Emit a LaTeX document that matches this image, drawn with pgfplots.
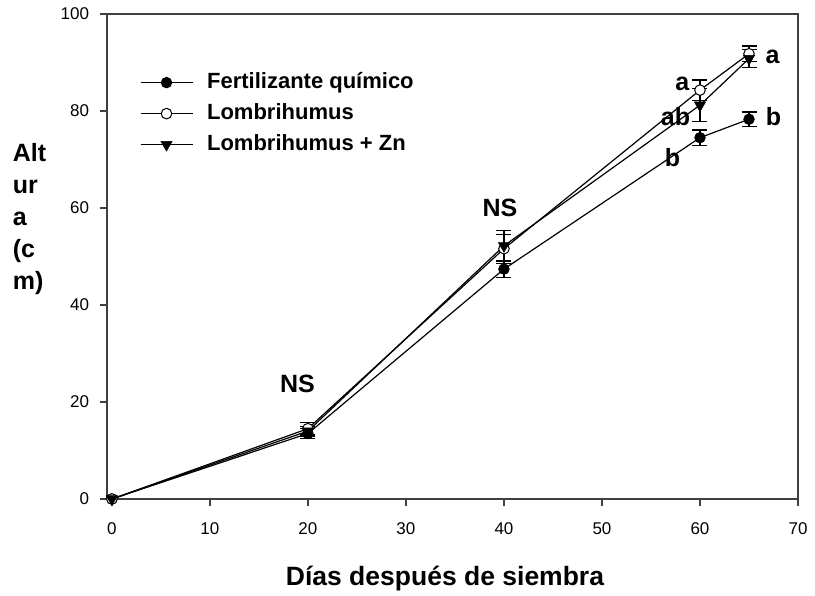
\documentclass[border=0pt]{standalone}
\usepackage{fontspec}
\setmainfont{Liberation Sans}
\usepackage{pgfplots}
\usepackage{pgfplotstable}
\pgfplotsset{compat=1.18}

\pgfplotstableread{
x y e
0 0 0
20 13.5 1.0
40 47.4 1.8
60 74.5 1.6
65 78.3 1.5
}\fert

\pgfplotstableread{
x y e
0 0 0
20 14.5 1.2
40 51.6 3.0
60 84.3 2.1
65 91.8 1.6
}\lomb

\pgfplotstableread{
x y e
0 0 0
20 14.0 1.0
40 52.2 3.2
60 81.2 3.4
65 90.8 1.8
}\lombzn

\begin{document}
\begin{tikzpicture}[x=1pt,y=1pt]
\begin{axis}[
  at={(107pt,97pt)}, anchor=south west,
  scale only axis, width=691pt, height=485pt,
  xmin=-0.5, xmax=70, ymin=0, ymax=100,
  xtick={0,10,...,70}, ytick={0,20,...,100},
  tick align=outside, tick pos=left,
  major tick length=7.5pt,
  axis line style={line width=1.6pt, draw=black!75},
  tick style={line width=1.2pt, draw=black!75},
  ticklabel style={font=\fontsize{17}{20}\selectfont},
  xticklabel style={yshift=-13pt},
  yticklabel style={xshift=-7pt},
  /pgf/number format/assume math mode=true,
  clip=false,
  legend style={draw=none, fill=none, at={(rel axis cs:0.043,0.895)}, anchor=north west,
    font=\bfseries\fontsize{22}{26}\selectfont, row sep=0pt,
    nodes={text height=16pt, text depth=5pt, inner sep=5pt},
    /tikz/every odd column/.append style={column sep=9pt}},
  legend cell align=left,
  legend image code/.code={\draw[mark repeat=2,mark phase=2,#1] plot coordinates {(0pt,0pt)(26pt,0pt)(52pt,0pt)};},
]
% error bars (skip the zero point)
\addplot[forget plot, draw=none, mark=none, skip coords between index={0}{1},
  error bars/.cd, y dir=both, y explicit,
  error bar style={draw=black, line width=1.2pt},
  error mark options={draw=black, rotate=90, mark size=7.5pt, line width=1.2pt}]
  table[x=x, y=y, y error=e] {\fert};
\addplot[forget plot, draw=none, mark=none, skip coords between index={0}{1},
  error bars/.cd, y dir=both, y explicit,
  error bar style={draw=black, line width=1.2pt},
  error mark options={draw=black, rotate=90, mark size=7.5pt, line width=1.2pt}]
  table[x=x, y=y, y error=e] {\lomb};
\addplot[forget plot, draw=none, mark=none, skip coords between index={0}{1},
  error bars/.cd, y dir=both, y explicit,
  error bar style={draw=black, line width=1.2pt},
  error mark options={draw=black, rotate=90, mark size=7.5pt, line width=1.2pt}]
  table[x=x, y=y, y error=e] {\lombzn};

\addplot[black, line width=1.2pt, mark=*, mark size=5.3pt, mark options={fill=black, line width=0.8pt}]
  table[x=x, y=y] {\fert};
\addlegendentry{Fertilizante químico}
\addplot[black, line width=1.2pt, mark=*, mark size=5.3pt, mark options={fill=white, draw=black, line width=1pt}]
  table[x=x, y=y] {\lomb};
\addlegendentry{Lombrihumus}
\addplot[black, line width=1.2pt, mark=triangle*, mark size=6.5pt, mark options={fill=black, rotate=180, line width=0.5pt}]
  table[x=x, y=y] {\lombzn};
\addlegendentry{Lombrihumus + Zn}

\node[font=\bfseries\fontsize{25}{30}\selectfont, anchor=base] at (axis cs:18.93,21.9) {NS};
\node[font=\bfseries\fontsize{25}{30}\selectfont, anchor=base] at (axis cs:39.6,58.2) {NS};
\node[font=\bfseries\fontsize{25}{30}\selectfont, anchor=base] at (axis cs:58.2,84.3) {a};
\node[font=\bfseries\fontsize{25}{30}\selectfont, anchor=base] at (axis cs:57.5,77.1) {ab};
\node[font=\bfseries\fontsize{25}{30}\selectfont, anchor=base] at (axis cs:57.2,68.5) {b};
\node[font=\bfseries\fontsize{25}{30}\selectfont, anchor=base] at (axis cs:67.4,89.8) {a};
\node[font=\bfseries\fontsize{25}{30}\selectfont, anchor=base] at (axis cs:67.5,77.1) {b};
\end{axis}
\begin{scope}[every node/.style={font=\bfseries\fontsize{25}{30}\selectfont, inner sep=0pt}]
\node[anchor=base west] at (12.7,434.5) {Alt};
\node[anchor=base west] at (12.7,402.5) {ur};
\node[anchor=base west] at (12.7,370.5) {a};
\node[anchor=base west] at (12.7,338.5) {(c};
\node[anchor=base west] at (12.7,306.5) {m)};
\node[anchor=base, font=\bfseries\fontsize{26.5}{30}\selectfont] at (445,10) {Días después de siembra};
\end{scope}
\pgfresetboundingbox
\path (0,0) rectangle (815,596);
\end{tikzpicture}
\end{document}
